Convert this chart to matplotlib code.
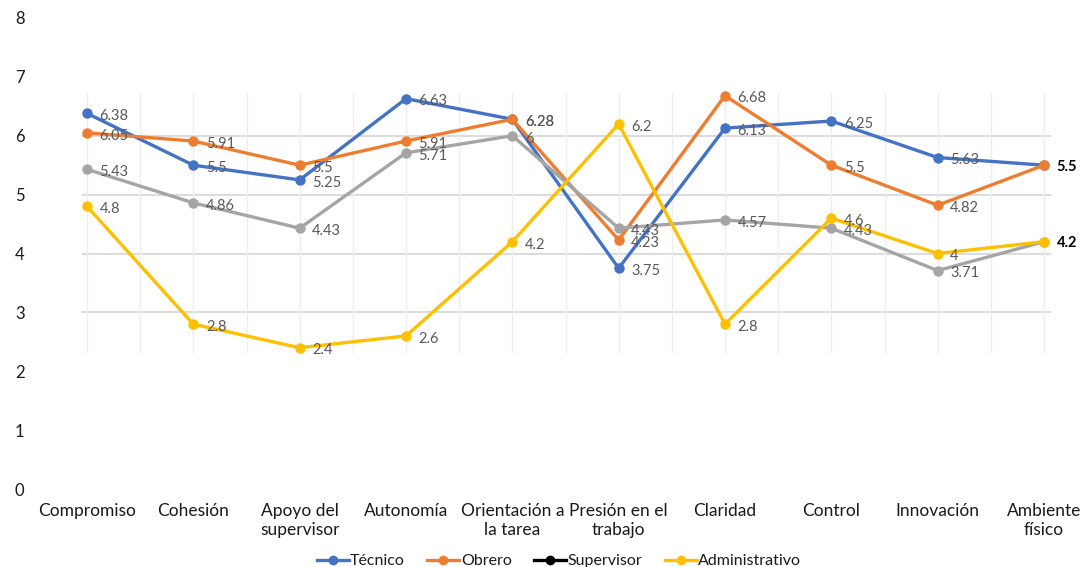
import matplotlib
matplotlib.use("Agg")
import matplotlib.pyplot as plt
from matplotlib.lines import Line2D

plt.rcParams['font.family'] = ['Lato', 'DejaVu Sans']

categories = ["Compromiso", "Cohesión", "Apoyo del\nsupervisor", "Autonomía",
              "Orientación a\nla tarea", "Presión en el\ntrabajo", "Claridad",
              "Control", "Innovación", "Ambiente\nfísico"]

tecnico = [6.38, 5.5, 5.25, 6.63, 6.28, 3.75, 6.13, 6.25, 5.63, 5.5]
obrero = [6.05, 5.91, 5.5, 5.91, 6.28, 4.23, 6.68, 5.5, 4.82, 5.5]
supervisor = [5.43, 4.86, 4.43, 5.71, 6.0, 4.43, 4.57, 4.43, 3.71, 4.2]
administrativo = [4.8, 2.8, 2.4, 2.6, 4.2, 6.2, 2.8, 4.6, 4.0, 4.2]

series_names = ["Técnico", "Obrero", "Supervisor", "Administrativo"]
series_values = [tecnico, obrero, supervisor, administrativo]
line_colors = ["#4472C4", "#ED7D31", "#A5A5A5", "#FFC000"]
legend_colors = ["#4472C4", "#ED7D31", "#000000", "#FFC000"]

y_ticks = list(range(0, 9))

W, H = 1084, 567
fig = plt.figure(figsize=(W / 100, H / 100), dpi=100)

# axes placed so that category 0 sits at x=87 px and category 9 at x=1044 px
px_per_cat = (1044 - 87) / 9
ax_left_px, ax_right_px = 30, 1080
ax_bottom_px, ax_top_px = 489, 18
ax = fig.add_axes([ax_left_px / W, (H - ax_bottom_px) / H,
                   (ax_right_px - ax_left_px) / W, (ax_bottom_px - ax_top_px) / H])
ax.set_xlim((ax_left_px - 87) / px_per_cat, (ax_right_px - 87) / px_per_cat)
ax.set_ylim(0, 8)

n = len(categories)
x = list(range(n))

# inner plot-area grid
grid_x0, grid_x1 = -0.05, 9.07
grid_y0, grid_y1 = 2.31, 6.74
ax.hlines([3, 4, 5, 6], grid_x0, grid_x1, colors="#D9D9D9", linewidth=1.3, zorder=1)
ax.vlines([i * 0.5 for i in range(2 * n - 1)], grid_y0, grid_y1,
          colors="#EEEEEE", linewidth=1.0, zorder=1)

for name, vals, col in zip(series_names, series_values, line_colors):
    ax.plot(x, vals, color=col, linewidth=2.4, marker="o", markersize=6.5,
            zorder=3, solid_joinstyle="round")
    for i, v in enumerate(vals):
        if i == n - 1:
            continue
        ax.annotate(f"{v:g}", (i, v), xytext=(9, -2), textcoords="offset points",
                    ha="left", va="center", fontsize=10.5, color="#595959", zorder=4)

# end-of-series labels on the last category
for v in sorted(set([s[-1] for s in series_values])):
    ax.annotate(f"{v:g}", (n - 1, v), xytext=(9, -1), textcoords="offset points",
                ha="left", va="center", fontsize=10.5, color="#000000",
                fontweight="bold", zorder=4)

ax.set_xticks(x)
ax.set_xticklabels(categories, fontsize=12.5, color="#1a1a1a", linespacing=1.25)
ax.set_yticks(y_ticks)
ax.set_yticklabels([str(t) for t in y_ticks], fontsize=12, color="#1a1a1a")
ax.tick_params(axis="both", length=0)
ax.tick_params(axis="x", pad=10)
ax.tick_params(axis="y", pad=4)
for s in ax.spines.values():
    s.set_visible(False)

handles = [Line2D([0], [0], color=c, linewidth=2.4, marker="o", markersize=6)
           for c in legend_colors]
fig.legend(handles, series_names, loc="center", bbox_to_anchor=(559 / W, (H - 561) / H),
           ncol=4, frameon=False, fontsize=11.5, handlelength=2.0, handletextpad=0.1,
           columnspacing=1.4, labelcolor="#1a1a1a")

fig.savefig("out.png", dpi=100)
